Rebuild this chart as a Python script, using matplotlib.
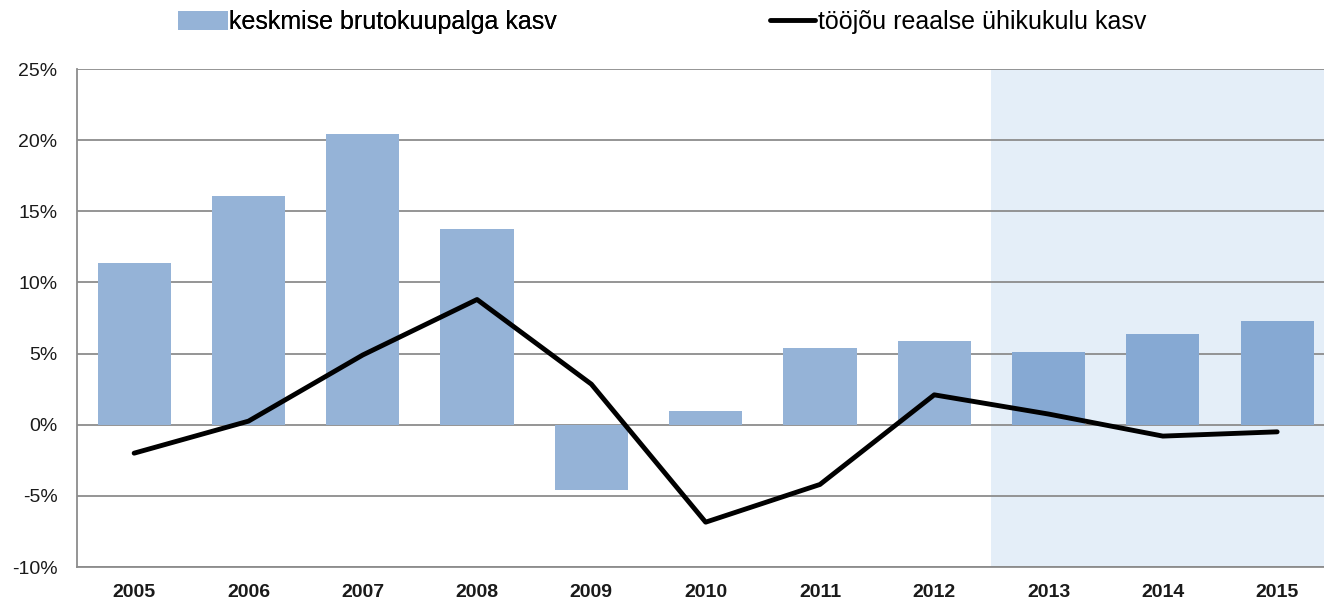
import numpy as np
import matplotlib.pyplot as plt
from matplotlib.ticker import FuncFormatter

years = ['2005', '2006', '2007', '2008', '2009', '2010', '2011', '2012', '2013', '2014', '2015']
palk = [11.4, 16.1, 20.4, 13.75, -4.6, 0.95, 5.4, 5.9, 5.1, 6.4, 7.3]
uhikukulu = [-2.0, 0.25, 4.9, 8.8, 2.85, -6.85, -4.2, 2.1, 0.75, -0.8, -0.5]
prognoos_algus = 8  # 2013 onward is forecast

plt.rcParams['font.family'] = ['Liberation Sans', 'DejaVu Sans']

fig = plt.figure(figsize=(13.24, 5.99), dpi=100)
ax = fig.add_axes([77 / 1324, 1 - 567 / 599, 1 - 77 / 1324, (567 - 69) / 599])

x = np.arange(len(years))
xmax = 10.41
ax.axvspan(prognoos_algus - 0.5, xmax, color='#e4eef8', zorder=0, lw=0)

colors = ['#95b3d7' if i < prognoos_algus else '#86a9d3' for i in range(len(years))]
bars = ax.bar(x, palk, width=0.64, color=colors, zorder=2)
line, = ax.plot(x, uhikukulu, color='black', lw=3.5, zorder=3, solid_capstyle='round')

ax.set_xlim(-0.5, xmax)
ax.set_ylim(-10, 25)
ax.set_yticks(np.arange(-10, 26, 5))
ax.yaxis.set_major_formatter(FuncFormatter(lambda v, p: '%d%%' % v))
ax.grid(axis='y', color='#8c8c8c', lw=1.3, zorder=1)
ax.set_axisbelow(True)

ax.set_xticks(x)
ax.set_xticklabels(years, fontweight='bold')
ax.tick_params(axis='both', length=0, labelsize=14, colors='#1a1a1a')
ax.tick_params(axis='x', pad=12.5)
ax.tick_params(axis='y', pad=14)

for s in ['top', 'right']:
    ax.spines[s].set_visible(False)
ax.spines['left'].set_color('#8c8c8c')
ax.spines['left'].set_linewidth(1.3)
ax.spines['bottom'].set_color('#8c8c8c')
ax.spines['bottom'].set_linewidth(1.3)

leg1 = fig.legend([bars], ['keskmise brutokuupalga kasv'], loc='center left',
                  bbox_to_anchor=(178 / 1324, 1 - 22 / 599), frameon=False,
                  fontsize=18, handlelength=2.0, handleheight=0.8, handletextpad=0.05,
                  borderaxespad=0, borderpad=0)
leg2 = fig.legend([line], ['tööjõu reaalse ühikukulu kasv'], loc='center left',
                  bbox_to_anchor=(770 / 1324, 1 - 22 / 599), frameon=False,
                  fontsize=18, handlelength=1.8, handletextpad=0.1, borderaxespad=0,
                  borderpad=0)
fig.add_artist(leg1)

fig.savefig('out.png', dpi=100)
